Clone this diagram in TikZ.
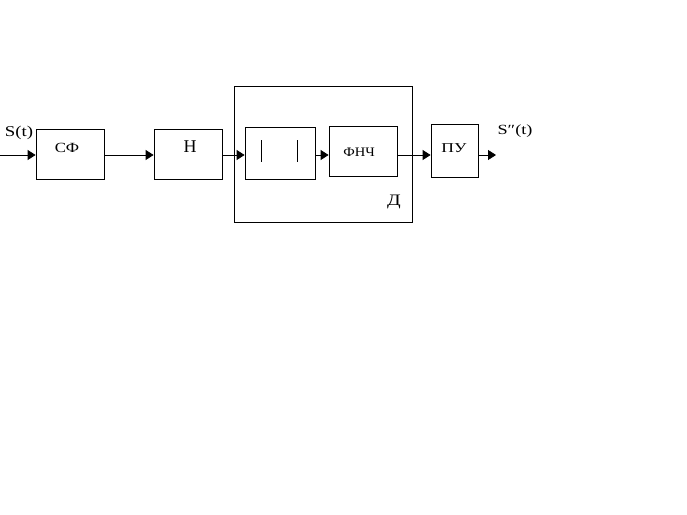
\documentclass[tikz,border=0pt]{standalone}
\usepackage{fontspec}
\setmainfont{Liberation Serif}
\usetikzlibrary{arrows.meta,calc,positioning}
\newcommand\widetxt[2]{\scalebox{#1}[1]{#2}}

\begin{document}
\begin{tikzpicture}[x=1pt,y=-1pt,>={Triangle[length=8pt,width=10pt]},line width=0.8pt]
  \tikzset{blk/.style 2 args={draw,inner sep=0pt,minimum width=#1,minimum height=#2},
    lbl/.style={inner sep=0pt,font=\fontsize{#1}{#1}\selectfont}}
  \useasboundingbox (0,0) rectangle (687,514);
  \coordinate (row) at (0,155);
  \coordinate (src) at (0,155);
  \coordinate (out) at (496,155);
  % blocks
  \node[blk={68pt}{50pt}] (sf) at (70,154) {};
  \node[blk={68pt}{50pt}] (n) at (188,154) {};
  \node[blk={178pt}{136pt}] (d) at (323,154) {};
  \node[blk={70pt}{52pt}] (det) at (280,153) {};
  \node[blk={68pt}{50pt}] (fnch) at (363,151) {};
  \node[blk={47pt}{53pt}] (pu) at (454.5,150.5) {};
  % labels
  \node[lbl=14] (sfl) at (67,148) {\widetxt{1.2}{СФ}};
  \node[lbl=18] (nl) at (190,147) {Н};
  \node[lbl=13] (fnchl) at (359,152) {\widetxt{1.12}{ФНЧ}};
  \node[lbl=13.5] (pul) at (454,148) {\widetxt{1.3}{ПУ}};
  \node[lbl=16] (dl) at (394,202) {\widetxt{1.25}{Д}};
  \node[lbl=15] (inl) at (19,133) {\widetxt{1.25}{S(t)}};
  \node[lbl=14] (outl) at (515,131) {\widetxt{1.3}{S″(t)}};
  \foreach \x in {261,297}{\draw (\x,140) -- (\x,162);}
  % connections
  \draw[->] (src) -- (sf.west |- row);
  \draw[->] (sf.east |- row) -- (n.west |- row);
  \draw[->] (n.east |- row) -- (det.west |- row);
  \draw[->] (det.east |- row) -- (fnch.west |- row);
  \draw[->] (fnch.east |- row) -- (pu.west |- row);
  \draw[->] (pu.east |- row) -- (out);
\end{tikzpicture}
\end{document}
